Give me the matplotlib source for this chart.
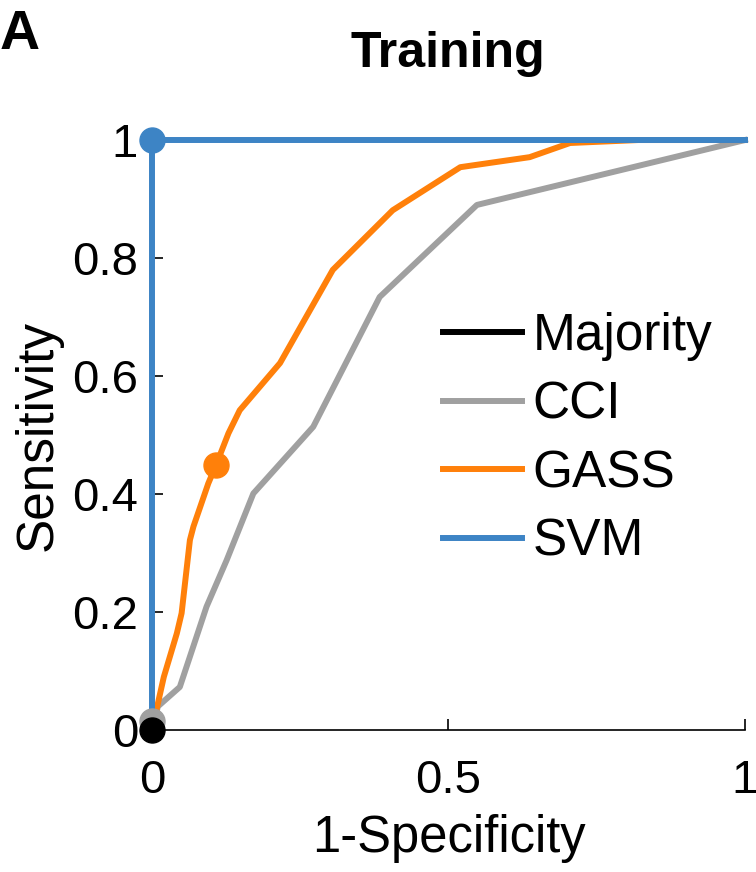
import numpy as np
import matplotlib.pyplot as plt

plt.rcParams['font.family'] = ['Liberation Sans', 'DejaVu Sans']

# ---------------------------------------
# ROC data
# ---------------------------------------

cci_fpr = [0, 0.01, 0.047, 0.092, 0.126, 0.171, 0.272, 0.384, 0.548, 1.0]
cci_tpr = [0, 0.04, 0.073, 0.209, 0.288, 0.401, 0.514, 0.734, 0.890, 1.0]

gass_fpr = [0, 0.02, 0.042, 0.05, 0.064, 0.07, 0.095, 0.108, 0.129, 0.148,
            0.216, 0.305, 0.406, 0.52, 0.637, 0.705, 0.82, 1.0]
gass_tpr = [0, 0.09, 0.164, 0.198, 0.322, 0.345, 0.418, 0.449, 0.503, 0.542,
            0.622, 0.780, 0.881, 0.954, 0.971, 0.995, 1.0, 1.0]

svm_fpr = [0, 0, 1.0]
svm_tpr = [0, 1.0, 1.0]

# operating points
op_names = ["CCI", "GASS", "SVM", "Majority"]
op_fpr = [0.0, 0.108, 0.0, 0.0]
op_tpr = [0.015, 0.449, 1.0, 0.0]

colors = {
    "Majority": "#000000",
    "CCI": "#a0a0a0",
    "GASS": "#ff800a",
    "SVM": "#3d84c5",
}


# ---------------------------------------
# Plot
# ---------------------------------------

fig = plt.figure(figsize=(7.56, 8.72), dpi=100)
ax = fig.add_axes([0.201, 0.1628, 0.7844, 0.6766])

lw = 4.3

ax.plot([], [], color=colors["Majority"], lw=lw, label="Majority")
ax.plot(cci_fpr, cci_tpr, color=colors["CCI"], lw=lw, label="CCI", clip_on=False)
ax.plot(gass_fpr, gass_tpr, color=colors["GASS"], lw=lw, label="GASS", clip_on=False)
ax.plot(svm_fpr, svm_tpr, color=colors["SVM"], lw=lw, label="SVM",
        clip_on=False, zorder=3)

for name, fx, ty in zip(op_names, op_fpr, op_tpr):
    ax.plot(
        fx, ty,
        "o",
        color=colors[name],
        markersize=18,
        clip_on=False,
        zorder=5
    )

ax.set_xlim(0, 1)
ax.set_ylim(0, 1)

ax.set_xticks([0, 0.5, 1])
ax.set_xticklabels(["0", "0.5", "1"])
ax.set_yticks([0, 0.2, 0.4, 0.6, 0.8, 1])
ax.set_yticklabels(["0", "0.2", "0.4", "0.6", "0.8", "1"])

ax.tick_params(direction="in", length=8, width=1.2, labelsize=34)
ax.tick_params(axis="x", pad=21)
ax.tick_params(axis="y", pad=10)

ax.spines["top"].set_visible(False)
ax.spines["right"].set_visible(False)
ax.spines["left"].set_linewidth(1.2)
ax.spines["bottom"].set_linewidth(1.2)

ax.set_xlabel("1-Specificity", fontsize=36.5, labelpad=8)
ax.set_ylabel("Sensitivity", fontsize=37, labelpad=7)

fig.text(0.593, 0.938, "Training", fontsize=36, fontweight="bold",
         ha="center", va="center")

fig.text(0.0, 0.99, "A", fontsize=40, fontweight="bold", va="top", ha="left")

ax.legend(
    loc="upper left",
    bbox_to_anchor=(0.586, 0.642),
    bbox_transform=fig.transFigure,
    frameon=False,
    fontsize=37,
    handlelength=1.54,
    handletextpad=0.2,
    labelspacing=0.38,
    borderpad=0,
    borderaxespad=0
)

fig.savefig("out.png", dpi=100)
